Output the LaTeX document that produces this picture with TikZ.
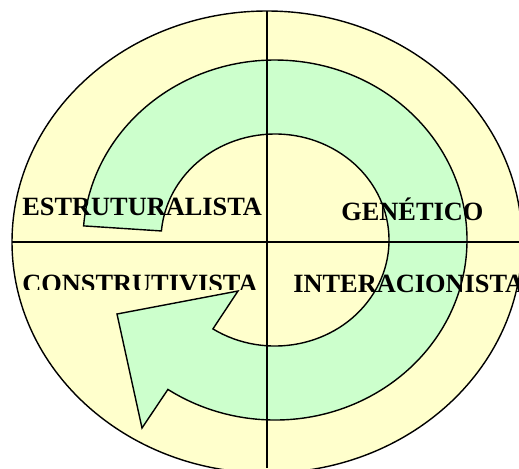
\documentclass[tikz,border=0pt]{standalone}
\usepackage{fontspec}
\setmainfont{Liberation Serif}
\definecolor{paleyellow}{HTML}{FFFFCC}
\definecolor{palegreen}{HTML}{CCFFCC}

\begin{document}
\begin{tikzpicture}[x=0.02cm, y=-0.02cm,
    word/.style={font=\fontsize{15}{18}\selectfont\bfseries, inner sep=0pt, anchor=base west},
    ring/.style={fill=palegreen, draw, line width=0.8pt, line join=miter}]
    \useasboundingbox (0,0) rectangle (519,468);

    % Ellipse
    \draw[fill=paleyellow, line width=0.8pt] (267,242) ellipse [x radius=255, y radius=231];

    % Circular arrow
    \coordinate (tailout) at ([shift={(275,240)}]184.5:192 and 180);
    \coordinate (tailin) at ([shift={(275,240)}]184.9:114 and 106);
    \coordinate (headin) at ([shift={(275,240)}]123:114 and 106);
    \coordinate (barbout) at (142,428);
    \coordinate (tip) at (117,314);
    \coordinate (barbin) at (238,291);
    \draw[ring] (tailout) arc [start angle=184.5, end angle=483.9, x radius=192, y radius=180]
        -- (barbout) -- (tip) -- (barbin) -- (headin)
        arc [start angle=483, end angle=184.9, x radius=114, y radius=106] -- cycle;

    % Axes
    \coordinate (top) at (267,11);
    \coordinate (bottom) at (267,468);
    \coordinate (left) at (12,242);
    \coordinate (right) at (519,242);
    \draw[line width=1.1pt] (top) -- (bottom);
    \draw[line width=1.1pt] (left) -- (right);

    % Text
    \node[word] (estrut) at (22,215) {ESTRUTURALISTA};
    \node[word] (genet) at (341,220) {GENÉTICO};
    \begin{scope}
        \clip (0,0) rectangle (266,289);
        \node[word] (constr) at (22,292) {CONSTRUTIVISTA};
    \end{scope}
    \node[word] (inter) at (293,292) {INTERACIONISTA};

\end{tikzpicture}
\end{document}
